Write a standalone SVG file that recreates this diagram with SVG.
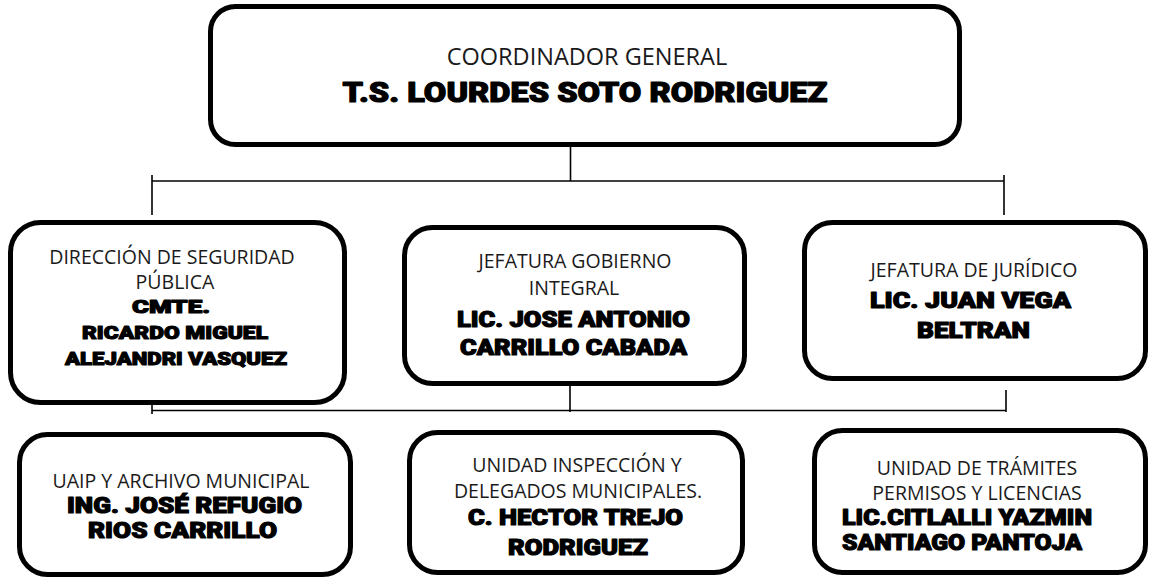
<svg xmlns="http://www.w3.org/2000/svg" width="1151" height="580" viewBox="0 0 1151 580">
<style>
.box{fill:#fff;stroke:#000;stroke-width:5}
.ln{stroke:#000;stroke-width:1.6;fill:none}
.r{font-family:"Open Sans","Noto Sans",sans-serif;font-size:19.5px;fill:#1a1a1a;text-anchor:middle}
.b{font-family:"Arial Black","Roboto","Liberation Sans",sans-serif;font-weight:900;fill:#000;stroke:#000;stroke-width:1.1;stroke-linejoin:round;text-anchor:middle}
</style>
<rect width="1151" height="580" fill="#fff"/>
<g id="connectors">
<line class="ln" x1="570.5" y1="146" x2="570.5" y2="181"/>
<line class="ln" x1="152" y1="181" x2="1004" y2="181"/>
<line class="ln" x1="152" y1="175" x2="152" y2="215"/>
<line class="ln" x1="1004" y1="175" x2="1004" y2="215"/>
<line class="ln" x1="152" y1="410.5" x2="1006" y2="410.5"/>
<line class="ln" x1="152" y1="392" x2="152" y2="414"/>
<line class="ln" x1="1006" y1="390" x2="1006" y2="412"/>
<line class="ln" x1="570" y1="363" x2="570" y2="412"/>
</g>
<g id="coordinador">
<rect class="box" x="210.5" y="6.5" width="749" height="138" rx="25"/>
<text class="r" x="587" y="65" style="font-size:23.5px">COORDINADOR GENERAL</text>
<text class="b" x="585" y="102" font-size="27.5" textLength="485" lengthAdjust="spacingAndGlyphs">T.S. LOURDES SOTO RODRIGUEZ</text>
</g>
<g id="seguridad">
<rect class="box" x="10.5" y="222.5" width="334" height="180" rx="30"/>
<text class="r" x="172" y="264">DIRECCIÓN DE SEGURIDAD</text>
<text class="r" x="175" y="289">PÚBLICA</text>
<text class="b" x="171" y="313" font-size="18.5" textLength="78" lengthAdjust="spacingAndGlyphs">CMTE.</text>
<text class="b" x="175" y="339" font-size="18.5" textLength="186" lengthAdjust="spacingAndGlyphs">RICARDO MIGUEL</text>
<text class="b" x="176" y="365" font-size="18.5" textLength="222" lengthAdjust="spacingAndGlyphs">ALEJANDRI VASQUEZ</text>
</g>
<g id="gobierno">
<rect class="box" x="404.5" y="227.5" width="340" height="156" rx="28"/>
<text class="r" x="575" y="268">JEFATURA GOBIERNO</text>
<text class="r" x="574" y="295">INTEGRAL</text>
<text class="b" x="573.5" y="327" font-size="21.5" textLength="233" lengthAdjust="spacingAndGlyphs">LIC. JOSE ANTONIO</text>
<text class="b" x="573.5" y="355" font-size="21.5" textLength="227" lengthAdjust="spacingAndGlyphs">CARRILLO CABADA</text>
</g>
<g id="juridico">
<rect class="box" x="804.5" y="222.5" width="341" height="156" rx="28"/>
<text class="r" x="974" y="277">JEFATURA DE JURÍDICO</text>
<text class="b" x="970.5" y="308" font-size="22" textLength="201" lengthAdjust="spacingAndGlyphs">LIC. JUAN VEGA</text>
<text class="b" x="973.5" y="338" font-size="22" textLength="113" lengthAdjust="spacingAndGlyphs">BELTRAN</text>
</g>
<g id="uaip">
<rect class="box" x="19.5" y="434.5" width="331" height="140" rx="28"/>
<text class="r" x="181" y="488">UAIP Y ARCHIVO MUNICIPAL</text>
<text class="b" x="184.5" y="513" font-size="21.5" textLength="235" lengthAdjust="spacingAndGlyphs">ING. JOSÉ REFUGIO</text>
<text class="b" x="182.5" y="538" font-size="21.5" textLength="189" lengthAdjust="spacingAndGlyphs">RIOS CARRILLO</text>
</g>
<g id="inspeccion">
<rect class="box" x="409.5" y="432.5" width="333" height="140" rx="28"/>
<text class="r" x="577" y="472">UNIDAD INSPECCIÓN Y</text>
<text class="r" x="578" y="498">DELEGADOS MUNICIPALES.</text>
<text class="b" x="575.5" y="525" font-size="21.5" textLength="215" lengthAdjust="spacingAndGlyphs">C. HECTOR TREJO</text>
<text class="b" x="578" y="555" font-size="21.5" textLength="140" lengthAdjust="spacingAndGlyphs">RODRIGUEZ</text>
</g>
<g id="tramites">
<rect class="box" x="814.5" y="430.5" width="331" height="142" rx="28"/>
<text class="r" x="977" y="475">UNIDAD DE TRÁMITES</text>
<text class="r" x="977" y="500">PERMISOS Y LICENCIAS</text>
<text class="b" x="842" y="525" font-size="21.5" textLength="250" lengthAdjust="spacingAndGlyphs" style="text-anchor:start">LIC.CITLALLI YAZMIN</text>
<text class="b" x="842" y="550" font-size="21.5" textLength="240" lengthAdjust="spacingAndGlyphs" style="text-anchor:start">SANTIAGO PANTOJA</text>
</g>
</svg>
